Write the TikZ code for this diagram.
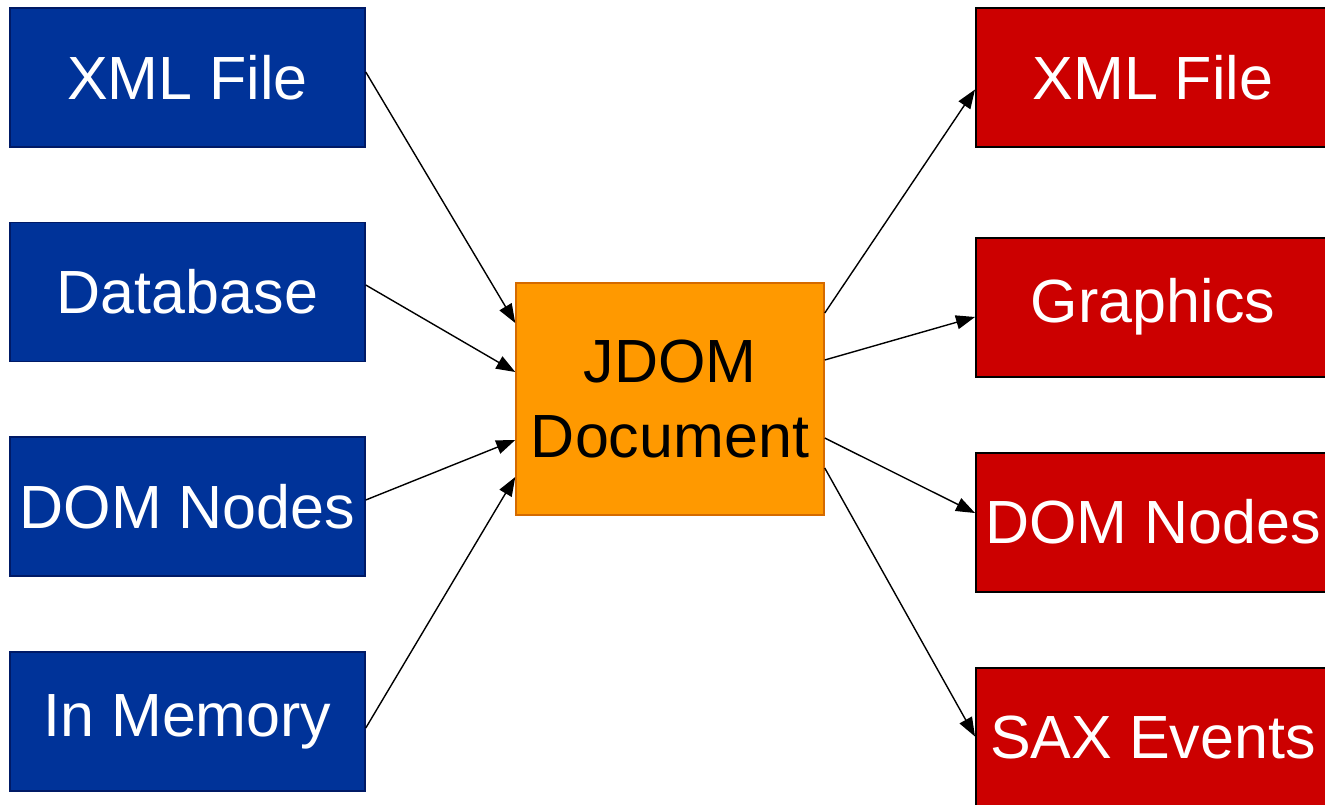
\documentclass[tikz,border=0pt]{standalone}
\usepackage{fontspec}
\setmainfont{Liberation Sans}
\usetikzlibrary{arrows.meta,calc}

\definecolor{srcblue}{HTML}{003399}
\definecolor{srcedge}{HTML}{001A66}
\definecolor{outred}{HTML}{CC0000}
\definecolor{coreorange}{HTML}{FF9900}
\definecolor{coreedge}{HTML}{D46A00}

\tikzset{
  source/.style={rectangle, fill=srcblue, draw=srcedge, line width=1.5pt,
    minimum width=355pt, minimum height=139pt, inner sep=0pt,
    text=white, font=\fontsize{61}{61}\selectfont},
  target/.style={rectangle, fill=outred, draw=black, line width=2pt,
    minimum width=354pt, minimum height=139pt, inner sep=0pt,
    text=white, font=\fontsize{61}{61}\selectfont},
  core/.style={rectangle, fill=coreorange, draw=coreedge, line width=1.5pt,
    minimum width=308pt, minimum height=232pt, inner sep=0pt,
    text=black, align=center, font=\fontsize{61}{75}\selectfont},
  flow/.style={draw=black, line width=1.4pt,
    -{Triangle[length=19pt,width=14pt]}}
}

\begin{document}
\begin{tikzpicture}[x=1pt,y=-1pt]
  \useasboundingbox (0,0) rectangle (1325,805);

  % input sources
  \node[source] (inxml) at (187.5,77.5)  {XML File};
  \node[source] (indb)  at (187.5,292)   {Database};
  \node[source] (indom) at (187.5,506.5) {DOM Nodes};
  \node[source] (inmem) at (187.5,721.5) {In Memory};

  % central document
  \node[core] (jdom) at (670,399) {JDOM\\Document};

  % outputs (extend past the right and bottom edges)
  \begin{scope}
    \clip (0,0) rectangle (1325,805);
    \node[target] (outxml) at (1153,77.5) {XML File};
    \node[target] (outgfx) at (1153,307)  {Graphics};
    \node[target] (outdom) at (1153,522)  {DOM Nodes};
    \node[target] (outsax) at (1153,737.5) {SAX Events};
  \end{scope}

  % inputs into the document
  \draw[flow] ($(inxml.east)+(0,-5.5)$) -- ($(jdom.west)+(0,-76)$);
  \draw[flow] ($(indb.east)+(0,-7)$)    -- ($(jdom.west)+(0,-27)$);
  \draw[flow] ($(indom.east)+(0,-6.5)$) -- ($(jdom.west)+(0,41)$);
  \draw[flow] ($(inmem.east)+(0,6.5)$)  -- ($(jdom.west)+(0,78)$);

  % document out to the outputs
  \draw[flow] ($(jdom.east)+(0,-86)$) -- ($(outxml.west)+(0,12)$);
  \draw[flow] ($(jdom.east)+(0,-39)$) -- ($(outgfx.west)+(0,10)$);
  \draw[flow] ($(jdom.east)+(0,39)$)  -- ($(outdom.west)+(0,-9)$);
  \draw[flow] ($(jdom.east)+(0,69)$)  -- ($(outsax.west)+(0,-1)$);
\end{tikzpicture}
\end{document}
